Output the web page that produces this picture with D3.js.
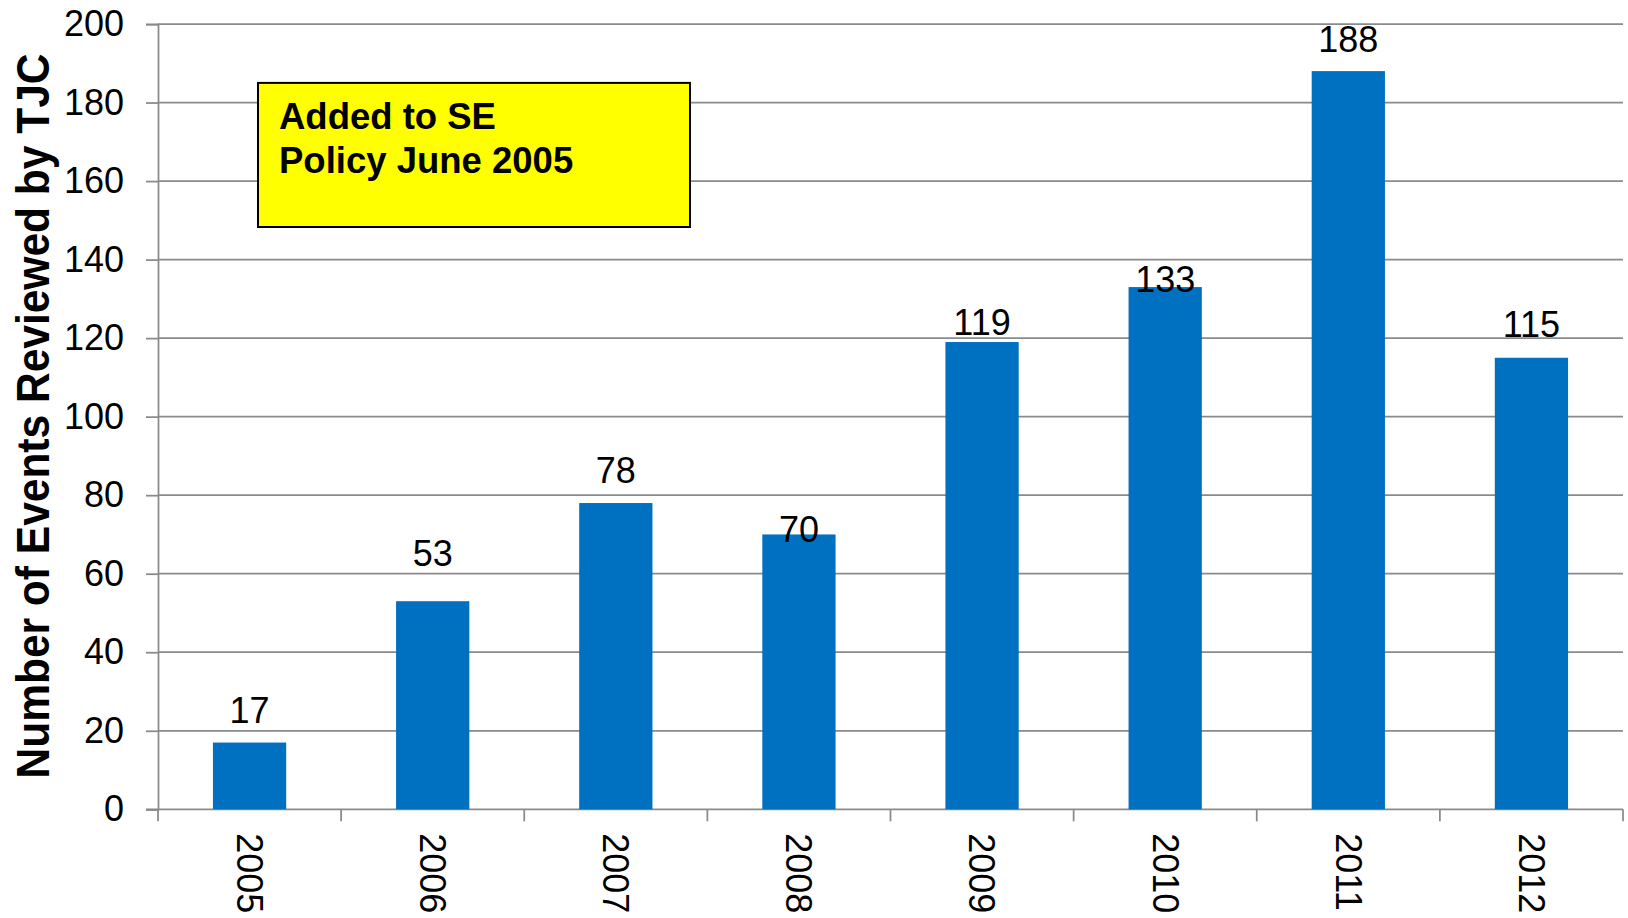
<!DOCTYPE html>
<html>
<head>
<meta charset="utf-8">
<script src="https://cdn.jsdelivr.net/npm/d3@7"></script>
<style>
  body { margin: 0; background: #fff; }
  text { font-family: "Liberation Sans", Arial, sans-serif; }
</style>
</head>
<body>
<div id="chart"></div>
<script>

var years  = ["2005", "2006", "2007", "2008", "2009", "2010", "2011", "2012"];
var events = [17, 53, 78, 70, 119, 133, 188, 115];
var yTicks = [0, 20, 40, 60, 80, 100, 120, 140, 160, 180, 200];

var width  = 1628;
var height = 918;
var margin = {top: 24, right: 5, bottom: 108.7, left: 158};

// labels were nudged by hand in the original, keep their offsets here
var labelGap = [20, 35, 20, -8, 7, -5, 19, 21];

var svg = d3.select('#chart')
    .append('svg')
    .attr('width', width)
    .attr('height', height);

var x = d3.scaleBand()
    .domain(years)
    .range([margin.left, width - margin.right])
    .paddingInner(0.6)
    .paddingOuter(0.3);

var y = d3.scaleLinear()
    .domain([0, 200])
    .range([height - margin.bottom, margin.top]);

// gridlines
svg.append('g')
    .selectAll('line')
    .data(yTicks.slice(1))
    .enter()
    .append('line')
    .attr('x1', margin.left)
    .attr('x2', width - margin.right)
    .attr('y1', function(d) { return y(d); })
    .attr('y2', function(d) { return y(d); })
    .attr('stroke', '#8a8a8a')
    .attr('stroke-width', 1.75);

// y axis
var yAxis = svg.append('g')
    .attr('transform', 'translate(' + margin.left + ',0)')
    .call(d3.axisLeft(y).tickValues(yTicks).tickSize(12).tickPadding(22));
yAxis.selectAll('text')
    .attr('font-size', 36)
    .attr('font-family', '"Liberation Sans", Arial, sans-serif')
    .attr('fill', '#000');
yAxis.selectAll('line, path')
    .attr('stroke', '#8a8a8a')
    .attr('stroke-width', 1.75);

// x axis, ticks at band edges
var step = x.step();
var x0 = x.range()[0];
var edges = d3.range(years.length + 1).map(function(i) { return x0 + i * step; });
var xAxis = svg.append('g');
xAxis.append('line')
    .attr('x1', margin.left - 12)
    .attr('x2', width - margin.right)
    .attr('y1', y(0))
    .attr('y2', y(0))
    .attr('stroke', '#8a8a8a')
    .attr('stroke-width', 1.75);
xAxis.selectAll('.tk')
    .data(edges)
    .enter()
    .append('line')
    .attr('class', 'tk')
    .attr('x1', function(d) { return d; })
    .attr('x2', function(d) { return d; })
    .attr('y1', y(0))
    .attr('y2', y(0) + 12)
    .attr('stroke', '#8a8a8a')
    .attr('stroke-width', 1.75);
xAxis.selectAll('.lbl')
    .data(years)
    .enter()
    .append('text')
    .attr('class', 'lbl')
    .attr('transform', function(d) {
        return 'translate(' + (x(d) + x.bandwidth() / 2) + ',' + (y(0) + 24) + ') rotate(90)';
    })
    .attr('dy', '0.35em')
    .attr('font-size', 36)
    .text(function(d) { return d; });

// bars
svg.append('g')
    .selectAll('rect')
    .data(events)
    .enter()
    .append('rect')
    .attr('x', function(d, i) { return x(years[i]); })
    .attr('width', x.bandwidth())
    .attr('y', function(d) { return y(d); })
    .attr('height', function(d) { return y(0) - y(d); })
    .attr('fill', '#0070C0');

// value labels
svg.append('g')
    .selectAll('text')
    .data(events)
    .enter()
    .append('text')
    .attr('x', function(d, i) { return x(years[i]) + x.bandwidth() / 2; })
    .attr('y', function(d, i) { return y(d) - labelGap[i]; })
    .attr('text-anchor', 'middle')
    .attr('font-size', 36)
    .text(function(d) { return d; });

// y title
svg.append('text')
    .attr('transform', 'translate(49,416) rotate(-90)')
    .attr('text-anchor', 'middle')
    .attr('font-size', 47)
    .attr('font-weight', 'bold')
    .attr('textLength', 725)
    .attr('lengthAdjust', 'spacingAndGlyphs')
    .text('Number of Events Reviewed by TJC');

// annotation box
var note = svg.append('g');
note.append('rect')
    .attr('x', 258)
    .attr('y', y(185))
    .attr('width', 432)
    .attr('height', y(148.3) - y(185))
    .attr('fill', '#FFFF00')
    .attr('stroke', '#000')
    .attr('stroke-width', 2);
note.selectAll('text')
    .data(['Added to SE', 'Policy June 2005'])
    .enter()
    .append('text')
    .attr('x', 279)
    .attr('y', function(d, i) { return 129 + i * 44; })
    .attr('font-size', 36.5)
    .attr('font-weight', 'bold')
    .text(function(d) { return d; });

</script>
</body>
</html>
